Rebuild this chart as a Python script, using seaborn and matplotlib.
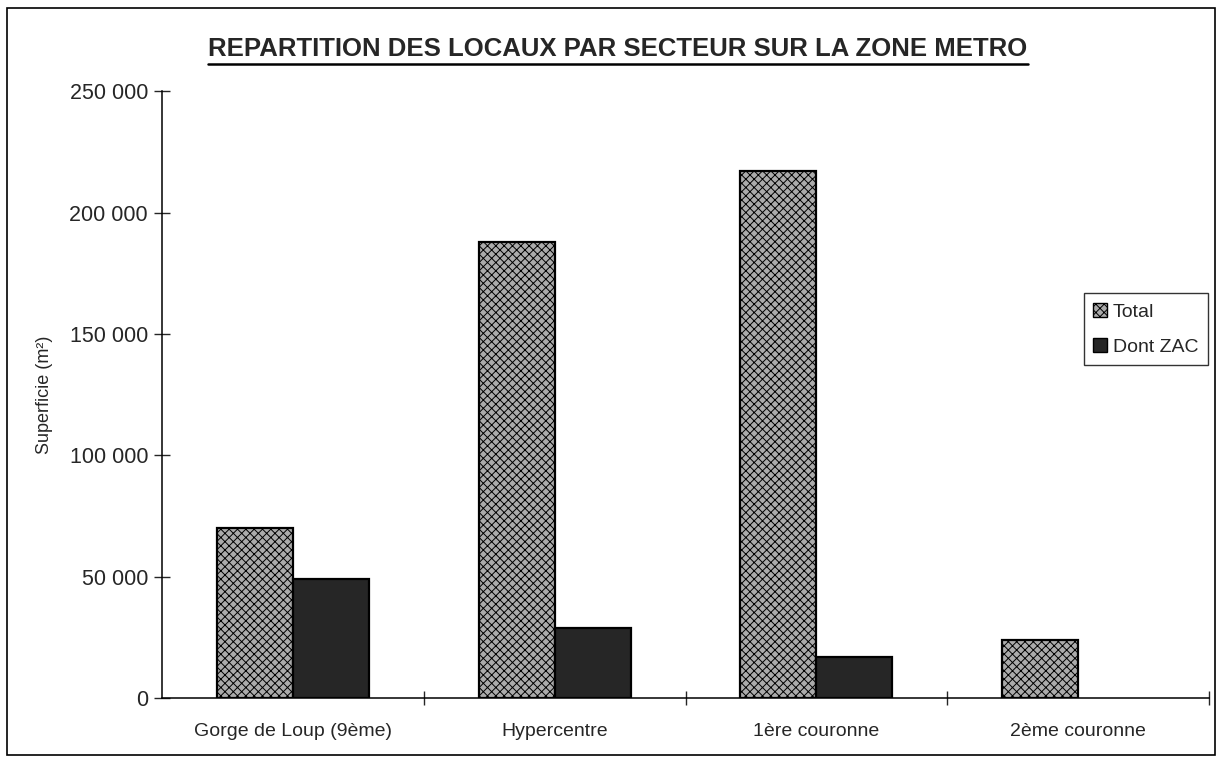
import matplotlib
matplotlib.use("Agg")
import matplotlib.pyplot as plt
import pandas as pd
import seaborn as sns
from matplotlib.lines import Line2D
from matplotlib.patches import Rectangle
from matplotlib.ticker import FuncFormatter, MultipleLocator, FixedLocator

sectors = ["Gorge de Loup (9ème)", "Hypercentre", "1ère couronne", "2ème couronne"]
total = [70000, 188000, 217000, 24000]
dont_zac = [49000, 29000, 17000, 0]
series = ["Total", "Dont ZAC"]

df = pd.DataFrame({
    "secteur": sectors * 2,
    "valeur": total + dont_zac,
    "serie": [series[0]] * len(sectors) + [series[1]] * len(sectors),
})

sns.set_style("ticks")
plt.rcParams["font.family"] = ["Liberation Sans", "DejaVu Sans"]
plt.rcParams["hatch.linewidth"] = 0.7

fig = plt.figure(figsize=(12.19, 7.6), dpi=100)
ax = fig.add_axes([0.1329, 0.0816, 0.8589, 0.7984])

sns.barplot(data=df, x="secteur", y="valeur", hue="serie", order=sectors,
            hue_order=series, width=0.58, palette=["#ababab", "#262626"],
            edgecolor="black", linewidth=1.6, saturation=1, ax=ax, legend=False)

# checker-like texture for the Total bars; empty bars get no outline
for bar in ax.containers[0]:
    bar.set_hatch("xxxx")
for cont in ax.containers:
    for bar in cont:
        if bar.get_height() == 0:
            bar.set_linewidth(0)

ax.set_xlim(-0.5, 3.5)
ax.set_ylim(0, 250000)
ax.yaxis.set_major_locator(MultipleLocator(50000))
ax.yaxis.set_major_formatter(FuncFormatter(lambda v, p: f"{int(v):,}".replace(",", " ")))
ax.xaxis.set_major_locator(FixedLocator(range(len(sectors))))
ax.set_xticklabels(sectors)
ax.xaxis.set_minor_locator(FixedLocator([0.5, 1.5, 2.5, 3.5]))
ax.tick_params(axis="x", which="major", length=0, pad=18, labelsize=14)
ax.tick_params(axis="x", which="minor", direction="inout", length=10, width=1)
ax.tick_params(axis="y", direction="inout", length=12, width=1, labelsize=15.5, pad=4)
sns.despine(ax=ax)
for s in ("left", "bottom"):
    ax.spines[s].set_linewidth(1.1)
    ax.spines[s].set_color("black")

ax.set_xlabel("")
ax.set_ylabel("Superficie (m²)", fontsize=13, labelpad=12)

handles = [Rectangle((0, 0), 1, 1, facecolor="#ababab", edgecolor="black", hatch="xxxx", lw=1),
           Rectangle((0, 0), 1, 1, facecolor="#262626", edgecolor="black", lw=1)]
leg = ax.legend(handles, series, loc="upper right", bbox_to_anchor=(0.999, 0.667),
                fontsize=14, frameon=True, fancybox=False, handlelength=0.7,
                handleheight=0.7, handletextpad=0.3, labelspacing=0.9,
                borderpad=0.5, borderaxespad=0)
leg.get_frame().set_edgecolor("black")
leg.get_frame().set_linewidth(1)

title = fig.text(0.507, 0.936, "REPARTITION DES LOCAUX PAR SECTEUR SUR LA ZONE METRO",
                 ha="center", va="center", fontsize=18.5, fontweight="bold")

# underline the title
fig.canvas.draw()
bb = title.get_window_extent().transformed(fig.transFigure.inverted())
fig.add_artist(Line2D([bb.x0, bb.x1], [bb.y0 - 0.004, bb.y0 - 0.004],
                      transform=fig.transFigure, color="black", lw=1.8))

# outer frame of the chart area
fig.add_artist(Rectangle((0.006, 0.006), 0.991, 0.984, transform=fig.transFigure,
                         fill=False, edgecolor="black", lw=1.2))

fig.savefig("out.png", dpi=100)
